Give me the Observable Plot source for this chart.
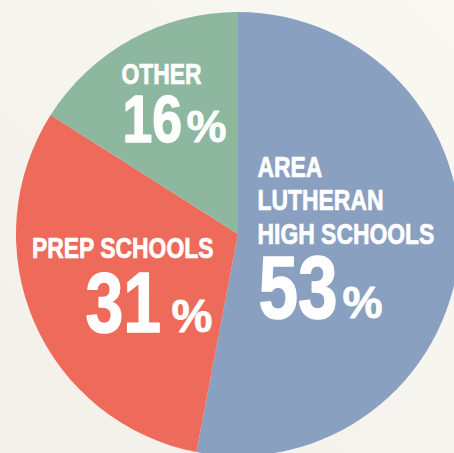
<!DOCTYPE html>
<html>
<head>
<meta charset="utf-8">
<script src="https://cdn.jsdelivr.net/npm/d3@7"></script>
<script src="https://cdn.jsdelivr.net/npm/@observablehq/plot@0.6"></script>
<style>
  html, body { margin: 0; padding: 0; background: #f6f3ed; }
  #chart { width: 454px; height: 453px; background: linear-gradient(to bottom left, #f9f8f3, #f3f0e9); }
  #chart svg { display: block; }
</style>
</head>
<body>
<div id="chart"></div>
<script>
// Data
const categories = ["AREA\nLUTHERAN\nHIGH SCHOOLS", "PREP SCHOOLS", "OTHER"];
const values = [53, 31, 16];
const valueLabels = ["53", "31", "16"];
const palette = ["#8aa0c0", "#ee6a5b", "#8eb7a0"];

// Layout (pixels)
const W = 454, H = 453;
const cx = 238, cy = 234, R = 222;
const font = "'Liberation Sans', Arial, sans-serif";

const slices = d3.pie().sort(null).value(d => d.value)(
  categories.map((c, i) => ({category: c, value: values[i], color: palette[i]}))
);

// label anchors per slice (pixel layout)
const nameLayout = [
  {x: 257, y: 243, anchor: "start"},
  {x: 213, y: 257, anchor: "end"},
  {x: 121, y: 83, anchor: "start"}
];
const numLayout = [
  {x: 258, y: 317, size: 89, px: 342, psize: 45},
  {x: 85, y: 331, size: 85, px: 171, psize: 46},
  {x: 122, y: 141, size: 67, px: 186, psize: 45}
];

const nameData = slices.map((s, i) => ({text: s.data.category, ...nameLayout[i]}));
const numData = slices.map((s, i) => ({text: valueLabels[i], ...numLayout[i]}));

const pieMark = (index, scales, channels, dims, context) => {
  const g = d3.create("svg:g");
  const x0 = scales.x(cx), y0 = scales.y(cy);
  const arc = d3.arc().innerRadius(0).outerRadius(R);
  g.selectAll("path").data(slices).join("path")
    .attr("transform", `translate(${x0},${y0})`)
    .attr("d", arc)
    .attr("fill", d => d.data.color);
  return g.node();
};

const chart = Plot.plot({
  width: W,
  height: H,
  margin: 0,
  style: {background: "transparent", overflow: "hidden"},
  x: {type: "identity", axis: null},
  y: {type: "identity", axis: null},
  marks: [
    pieMark,
    Plot.text(nameData.filter(d => d.anchor === "start"), {
      x: "x", y: "y", text: "text", textAnchor: "start", lineAnchor: "bottom",
      fill: "white", stroke: "white", strokeWidth: 0.7,
      fontSize: 29, fontWeight: "bold", fontFamily: font, lineHeight: 1.14
    }),
    Plot.text(nameData.filter(d => d.anchor === "end"), {
      x: "x", y: "y", text: "text", textAnchor: "end", lineAnchor: "bottom",
      fill: "white", stroke: "white", strokeWidth: 0.7,
      fontSize: 29, fontWeight: "bold", fontFamily: font
    }),
    ...numData.map(d => Plot.text([d], {
      x: "x", y: "y", text: "text", textAnchor: "start", lineAnchor: "bottom",
      fill: "white", stroke: "white", strokeWidth: 1.5,
      fontSize: d.size, fontWeight: "bold", fontFamily: font
    })),
    ...numData.map(d => Plot.text([d], {
      x: "px", y: "y", text: () => "%", textAnchor: "start", lineAnchor: "bottom",
      fill: "white", stroke: "white", strokeWidth: 0.8,
      fontSize: d.psize, fontWeight: "bold", fontFamily: font
    }))
  ]
});

// condense the type horizontally (the reference uses a condensed bold face)
d3.select(chart).selectAll("text").each(function() {
  const t = this.textContent;
  const k = t === "%" ? 1.0 : /^\d+$/.test(t) ? 0.8 : 0.79;
  if (k === 1) return;
  const x = +(this.getAttribute("x") || 0), y = +(this.getAttribute("y") || 0);
  const T = this.getAttribute("transform") || "";
  this.setAttribute("transform", `${T} translate(${x},${y}) scale(${k},1) translate(${-x},${-y})`);
});

document.getElementById("chart").appendChild(chart);
</script>
</body>
</html>
